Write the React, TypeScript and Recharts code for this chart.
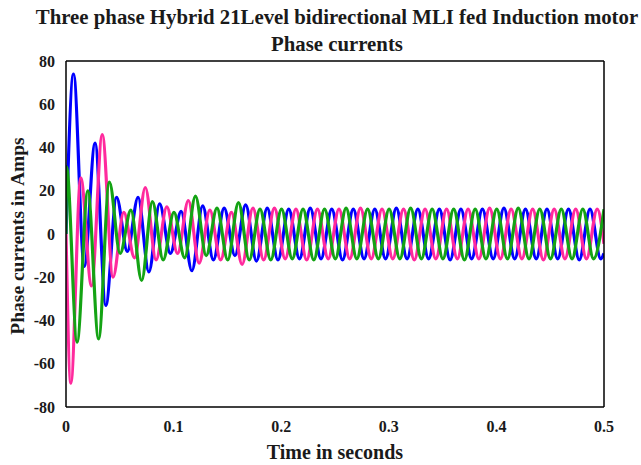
import { LineChart, Line, XAxis, YAxis } from 'recharts';

const xTicks = [0, 0.1, 0.2, 0.3, 0.4, 0.5];
const yTicks = [-80, -60, -40, -20, 0, 20, 40, 60, 80];

// turning points of each phase current (s, A)
const blueTimes = [0, 0.007, 0.017, 0.027, 0.037, 0.047, 0.057, 0.067, 0.077, 0.087, 0.097, 0.107, 0.117, 0.127, 0.137, 0.147, 0.157, 0.167, 0.177, 0.187, 0.197, 0.207, 0.217, 0.227, 0.237, 0.247, 0.257, 0.267, 0.277, 0.287, 0.297, 0.307, 0.317, 0.327, 0.337, 0.347, 0.357, 0.367, 0.377, 0.387, 0.397, 0.407, 0.417, 0.427, 0.437, 0.447, 0.457, 0.467, 0.477, 0.487, 0.497, 0.5];
const blueAmps = [0, 74, -15, 42, -33, 17, -8, 17, -17.5, 14, -9, 10.5, -17, 13, -12, 12, -10, 13.5, -12.5, 12, -12, 11.5, -11.5, 12, -11.5, 11.5, -12, 11.5, -11.5, 11.5, -11.5, 12, -11.5, 11.5, -11.5, 11.5, -12, 11.5, -11.5, 11.5, -11.5, 12, -11.5, 11.5, -11.5, 11.5, -11.5, 11.5, -12, 11.5, -11.5, -9];

const pinkTimes = [0, 0.0045, 0.0137, 0.0237, 0.0337, 0.0437, 0.0537, 0.0637, 0.0737, 0.0837, 0.0937, 0.1037, 0.1137, 0.1237, 0.1337, 0.1437, 0.1537, 0.1637, 0.1737, 0.1837, 0.1937, 0.2037, 0.2137, 0.2237, 0.2337, 0.2437, 0.2537, 0.2637, 0.2737, 0.2837, 0.2937, 0.3037, 0.3137, 0.3237, 0.3337, 0.3437, 0.3537, 0.3637, 0.3737, 0.3837, 0.3937, 0.4037, 0.4137, 0.4237, 0.4337, 0.4437, 0.4537, 0.4637, 0.4737, 0.4837, 0.4937, 0.5];
const pinkAmps = [0, -69, 26, -24, 46, -20, 10, -11, 21.5, -12, 12.5, -9, 15.5, -13.5, 11, -12, 10, -14, 12, -12, 12, -11.5, 11.5, -12, 11.5, -11.5, 11.5, -11.5, 12, -11.5, 11.5, -11.5, 11.5, -12, 11.5, -11.5, 11.5, -11.5, 11.5, -11.5, 12, -11.5, 11.5, -11.5, 11.5, -12, 11.5, -11.5, 11.5, -11.5, 11.5, -4.5];

const greenTimes = [0, 0.0005, 0.0103, 0.0203, 0.0303, 0.0403, 0.0503, 0.0603, 0.0703, 0.0803, 0.0903, 0.1003, 0.1103, 0.1203, 0.1303, 0.1403, 0.1503, 0.1603, 0.1703, 0.1803, 0.1903, 0.2003, 0.2103, 0.2203, 0.2303, 0.2403, 0.2503, 0.2603, 0.2703, 0.2803, 0.2903, 0.3003, 0.3103, 0.3203, 0.3303, 0.3403, 0.3503, 0.3603, 0.3703, 0.3803, 0.3903, 0.4003, 0.4103, 0.4203, 0.4303, 0.4403, 0.4503, 0.4603, 0.4703, 0.4803, 0.4903, 0.5];
const greenAmps = [0, 31, -50, 20, -48.5, 24, -9, 11, -21.5, 15, -12, 10, -11, 17.5, -10, 12, -12, 14.5, -12, 11.5, -12, 11.5, -11.5, 11.5, -12, 11.5, -11.5, 12, -11.5, 11.5, -11.5, 11.5, -11.5, 12, -11.5, 11.5, -11.5, 11.5, -12, 11.5, -11.5, 11.5, -11.5, 12, -11.5, 11.5, -11.5, 11.5, -11.5, 11.5, -11.5, 11.5];

const toRows = (times: number[], amps: number[]) => times.map((t, i) => ({ t, i: amps[i] }));

const phases = [
    { name: 'ia', color: '#0000ff', rows: toRows(blueTimes, blueAmps) },
    { name: 'ib', color: '#ff2a9d', rows: toRows(pinkTimes, pinkAmps) },
    { name: 'ic', color: '#14a314', rows: toRows(greenTimes, greenAmps) },
];

const W = 641;
const H = 465;
const font = '"Liberation Serif", "Times New Roman", serif';
const ink = '#1a1a1a';
const tickFont = { fill: ink, fontSize: 16, fontWeight: 'bold', fontFamily: font };
const inTick = { stroke: '#000', strokeWidth: 1 };

export default function App() {
    return (
        <div style={{ position: 'absolute', left: 0, top: 0, width: W, height: H, background: '#fff' }}>
            <LineChart width={W} height={H} margin={{ top: 61, right: 37, bottom: 28, left: 0 }}>
                <XAxis xAxisId="x" dataKey="t" type="number" domain={[0, 0.5]} ticks={xTicks} allowDataOverflow
                    height={30} tickLine={false} tickMargin={8} axisLine={{ stroke: '#000', strokeWidth: 1.5 }}
                    tick={tickFont} tickFormatter={(v: number) => String(v)} />
                <XAxis xAxisId="xin" type="number" domain={[0, 0.5]} ticks={xTicks} allowDataOverflow mirror
                    tick={false} tickLine={inTick} tickSize={4} axisLine={false} />
                <XAxis xAxisId="top" orientation="top" type="number" domain={[0, 0.5]} ticks={xTicks} allowDataOverflow mirror
                    tick={false} tickLine={inTick} tickSize={4} axisLine={{ stroke: '#000', strokeWidth: 1.5 }} />
                <YAxis yAxisId="y" type="number" domain={[-80, 80]} ticks={yTicks} allowDataOverflow
                    width={66} tickLine={false} tickMargin={5} axisLine={{ stroke: '#000', strokeWidth: 1.5 }}
                    tick={tickFont} />
                <YAxis yAxisId="yin" type="number" domain={[-80, 80]} ticks={yTicks} allowDataOverflow mirror
                    tick={false} tickLine={inTick} tickSize={4} axisLine={false} />
                <YAxis yAxisId="right" orientation="right" type="number" domain={[-80, 80]} ticks={yTicks} allowDataOverflow mirror
                    tick={false} tickLine={inTick} tickSize={4} axisLine={{ stroke: '#000', strokeWidth: 1.5 }} />
                {phases.map(p => (
                    <Line key={p.name} xAxisId="x" yAxisId="y" data={p.rows} dataKey="i" type="monotone"
                        stroke={p.color} strokeWidth={3.2} dot={false} activeDot={false} isAnimationActive={false} />
                ))}
            </LineChart>
            <svg width={W} height={H} style={{ position: 'absolute', left: 0, top: 0, pointerEvents: 'none' }}>
                <g fontFamily={font} fontWeight="bold" fill={ink} textAnchor="middle">
                    <text x={337} y={24} fontSize={20.8}>Three phase Hybrid 21Level bidirectional MLI fed Induction motor</text>
                    <text x={337} y={51} fontSize={20.8}>Phase currents</text>
                    <text x={335} y={459} fontSize={20}>Time in seconds</text>
                    <text x={0} y={0} fontSize={19.5} transform="translate(24 236) rotate(-90)">Phase currents in Amps</text>
                </g>
            </svg>
        </div>
    );
}
